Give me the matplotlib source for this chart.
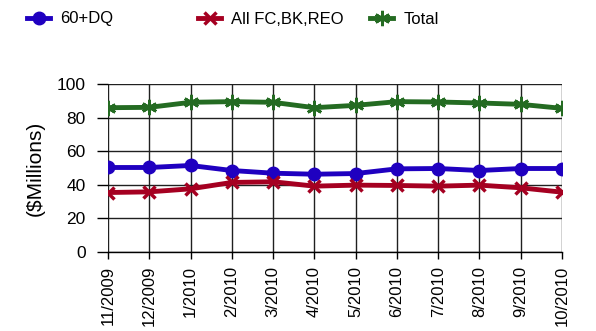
import matplotlib.pyplot as plt
from matplotlib.lines import Line2D

plt.rcParams['font.family'] = ['Liberation Sans', 'DejaVu Sans']

# luni si valori (milioane $)
luni = ['11/2009', '12/2009', '1/2010', '2/2010', '3/2010', '4/2010',
        '5/2010', '6/2010', '7/2010', '8/2010', '9/2010', '10/2010']
dq60 = [50.3, 50.3, 51.5, 48.5, 46.9, 46.3, 46.7, 49.5, 49.7, 48.5, 49.7, 49.7]
fc_bk_reo = [35.4, 35.8, 37.6, 41.4, 41.8, 39.2, 39.8, 39.6, 39.2, 39.8, 38.2, 35.6]
total = [85.9, 86.1, 89.1, 89.5, 89.1, 85.9, 87.3, 89.5, 89.3, 88.7, 87.9, 85.5]

albastru = '#1f00c0'
rosu = '#a50021'
verde = '#246b22'

fig = plt.figure(figsize=(5.96, 3.31), dpi=100)
ax = fig.add_axes([0.1812, 0.2387, 0.7618, 0.5075])

x = range(len(luni))
ax.plot(x, total, color=verde, lw=3.5, marker=(6, 2, 0), ms=11, mew=2, zorder=3)
ax.plot(x, dq60, color=albastru, lw=3.5, marker='o', ms=9, zorder=3)
ax.plot(x, fc_bk_reo, color=rosu, lw=3.5, marker='x', ms=9, mew=2.5, zorder=3)

ax.set_xlim(0, len(luni) - 1)
ax.set_ylim(0, 100)
ax.set_yticks(range(0, 101, 20))
ax.set_xticks(list(x))
ax.set_xticklabels(luni, rotation=90, fontsize=12)
ax.tick_params(axis='y', labelsize=12.5, length=8, width=1, pad=8)
ax.tick_params(axis='x', length=5, width=1, pad=5)
ax.grid(True, color='#202020', lw=1)
for s in ['top', 'right', 'left']:
    ax.spines[s].set_visible(False)
ax.spines['bottom'].set_linewidth(1)
ax.set_ylabel('($Millions)', fontsize=15, labelpad=9)

# legenda sus, fiecare intrare pozitionata separat
intrari = [
    (Line2D([], [], color=albastru, lw=3.5, marker='o', ms=9), '60+DQ', 27),
    (Line2D([], [], color=rosu, lw=3.5, marker='x', ms=9, mew=2.5), 'All FC,BK,REO', 198),
    (Line2D([], [], color=verde, lw=3.5, marker=(6, 2, 0), ms=11, mew=2), 'Total', 370),
]
for h, txt, px in intrari:
    fig.legend([h], [txt], loc='center left', bbox_to_anchor=(px / 596, 1 - 19 / 331),
               frameon=False, fontsize=12, handlelength=1.4, handletextpad=0.6,
               borderpad=0, borderaxespad=0)

fig.savefig('out.png', dpi=100)
